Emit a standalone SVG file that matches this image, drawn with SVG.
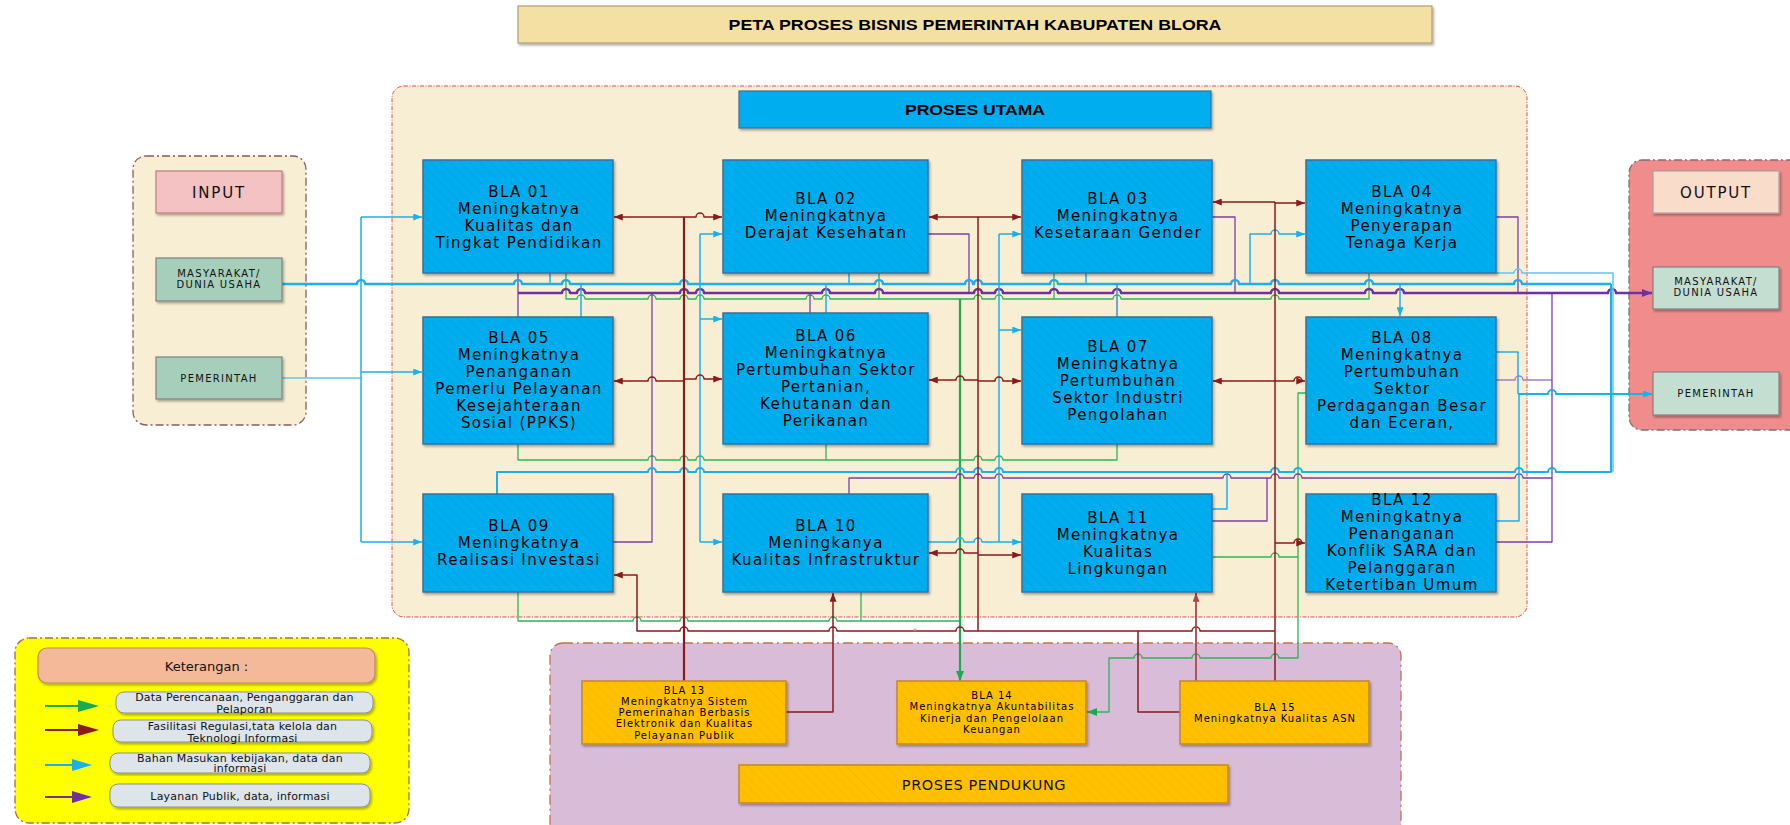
<svg xmlns="http://www.w3.org/2000/svg" width="1790" height="825" viewBox="0 0 1790 825">
<defs>
<pattern id="hb" width="7" height="7" patternUnits="userSpaceOnUse" patternTransform="rotate(-45)"><rect width="7" height="7" fill="#00aeef"/><line x1="0" y1="0" x2="0" y2="7" stroke="#0a9bd8" stroke-width="1"/></pattern>
<pattern id="hy" width="7" height="7" patternUnits="userSpaceOnUse" patternTransform="rotate(-45)"><rect width="7" height="7" fill="#ffc000"/><line x1="0" y1="0" x2="0" y2="7" stroke="#f2b200" stroke-width="1"/></pattern>
<filter id="sh" x="-5%" y="-5%" width="115%" height="120%"><feDropShadow dx="1.5" dy="2" stdDeviation="1.2" flood-color="#000" flood-opacity="0.3"/></filter>
<marker id="aR" viewBox="0 0 10 8" refX="10" refY="4" markerWidth="9" markerHeight="7" orient="auto" markerUnits="userSpaceOnUse"><path d="M0,0 L10,4 L0,8 z" fill="#8b1a1a"/></marker>
<marker id="aR2" viewBox="0 0 10 8" refX="10" refY="4" markerWidth="9" markerHeight="7" orient="auto" markerUnits="userSpaceOnUse"><path d="M0,0 L10,4 L0,8 z" fill="#a84848"/></marker>
<marker id="aC" viewBox="0 0 10 8" refX="10" refY="4" markerWidth="9" markerHeight="7" orient="auto" markerUnits="userSpaceOnUse"><path d="M0,0 L10,4 L0,8 z" fill="#1ab0ee"/></marker>
<marker id="aP" viewBox="0 0 10 8" refX="10" refY="4" markerWidth="10" markerHeight="8" orient="auto" markerUnits="userSpaceOnUse"><path d="M0,0 L10,4 L0,8 z" fill="#7030a0"/></marker>
<marker id="aG" viewBox="0 0 10 8" refX="10" refY="4" markerWidth="10" markerHeight="8" orient="auto" markerUnits="userSpaceOnUse"><path d="M0,0 L10,4 L0,8 z" fill="#1aab4f"/></marker>
<style>
.bla{fill:url(#hb);stroke:#3f6f98;stroke-width:1.5;filter:url(#sh)}
.sup{fill:url(#hy);stroke:#c8862a;stroke-width:1.5;filter:url(#sh)}
.bt{font-family:"DejaVu Sans",sans-serif;font-size:15px;letter-spacing:1.4px;fill:#000;text-anchor:middle}
.st{font-family:"DejaVu Sans",sans-serif;font-size:10px;letter-spacing:1px;fill:#000;text-anchor:middle}
.lt{font-family:"DejaVu Sans",sans-serif;font-size:11px;letter-spacing:0.2px;fill:#111;text-anchor:middle}
.io{font-family:"DejaVu Sans",sans-serif;font-size:10px;letter-spacing:1.3px;fill:#111;text-anchor:middle}
.hd{font-family:"DejaVu Sans",sans-serif;font-size:15px;letter-spacing:1.8px;fill:#111;text-anchor:middle}
#connectors path{stroke-linejoin:round}
.c{fill:none;stroke:#1ab0ee;stroke-width:1.5}
.ct{fill:none;stroke:#1ab0ee;stroke-width:2.5}
.cl{fill:none;stroke:#5ec6ee;stroke-width:1.5}
.cb{fill:none;stroke:#3b8fd0;stroke-width:1.5}
.p{fill:none;stroke:#7a3fae;stroke-width:1.3}
.pt{fill:none;stroke:#7030a0;stroke-width:2.5}
.pl{fill:none;stroke:#a67cc6;stroke-width:1.5}
.g{fill:none;stroke:#2bb55a;stroke-width:1.3}
.gt{fill:none;stroke:#1aab4f;stroke-width:2.2}
.r{fill:none;stroke:#8b1a1a;stroke-width:1.5}
.rt{fill:none;stroke:#8b1a1a;stroke-width:2.2}
.rl{fill:none;stroke:#a84848;stroke-width:1.8}
</style>
</defs>
<rect width="1790" height="825" fill="#ffffff"/>

<g id="title">
<rect x="518" y="6" width="914" height="37" fill="#f5e0a4" stroke="#b59c73" stroke-width="1.2" filter="url(#sh)"/>
<text x="975" y="29.5" font-family="Liberation Sans, Arial, sans-serif" font-size="14.5" font-weight="bold" text-anchor="middle" textLength="493" lengthAdjust="spacingAndGlyphs">PETA PROSES BISNIS PEMERINTAH KABUPATEN BLORA</text>
</g>
<g id="main-container">
<rect x="392" y="86" width="1135" height="531" rx="12" fill="#f8eed3" stroke="#e5484d" stroke-width="1" stroke-dasharray="4,1.5,1,1.5"/>
</g>
<g id="input-container">
<rect x="133" y="156" width="173" height="269" rx="13" fill="#f8eed3" stroke="#8c5c5c" stroke-width="1.3" stroke-dasharray="8,3,2,3"/>
</g>
<g id="output-container">
<rect x="1629" y="160" width="175" height="270" rx="13" fill="#f18c8c" stroke="#7f6f6f" stroke-width="1.3" stroke-dasharray="8,3,2,3"/>
</g>
<g id="support-container">
<rect x="550" y="643" width="851" height="195" rx="13" fill="#d8bcd8" stroke="#c8704a" stroke-width="1.3" stroke-dasharray="10,4,2,4"/>
</g>
<g id="legend">
<rect x="15" y="638" width="394" height="185" rx="14" fill="#ffff00" stroke="#a07050" stroke-width="1.3" stroke-dasharray="8,3,2,3"/>
<rect x="38" y="648" width="337" height="35" rx="9" fill="#f4b999" stroke="#c0876a" stroke-width="1.2" filter="url(#sh)"/>
<text x="206.5" y="670.5" font-family="DejaVu Sans, sans-serif" font-size="13" fill="#111" text-anchor="middle">Keterangan :</text>
<rect x="116" y="692" width="257" height="21" rx="8" fill="#dde4ea" stroke="#8a9096" stroke-width="1" filter="url(#sh)"/>
<text class="lt" x="244.5" y="701">Data Perencanaan, Penganggaran dan</text>
<text class="lt" x="244.5" y="713">Pelaporan</text>
<rect x="113" y="720" width="259" height="22" rx="8" fill="#dde4ea" stroke="#8a9096" stroke-width="1" filter="url(#sh)"/>
<text class="lt" x="242.5" y="729.5">Fasilitasi Regulasi,tata kelola dan</text>
<text class="lt" x="242.5" y="741.5">Teknologi Informasi</text>
<rect x="110" y="753" width="260" height="20" rx="8" fill="#dde4ea" stroke="#8a9096" stroke-width="1" filter="url(#sh)"/>
<text class="lt" x="240" y="761.5">Bahan Masukan kebijakan, data dan</text>
<text class="lt" x="240" y="772">informasi</text>
<rect x="110" y="784" width="260" height="23" rx="8" fill="#dde4ea" stroke="#8a9096" stroke-width="1" filter="url(#sh)"/>
<text class="lt" x="240" y="799.5">Layanan Publik, data, informasi</text>
<line x1="45" y1="706" x2="80" y2="706" stroke="#1aab4f" stroke-width="2"/><path d="M78,700 L99,706 L78,712 z" fill="#1aab4f"/>
<line x1="45" y1="730" x2="80" y2="730" stroke="#8b1a1a" stroke-width="2"/><path d="M78,724 L99,730 L78,736 z" fill="#8b1a1a"/>
<line x1="45" y1="765" x2="74" y2="765" stroke="#1ab0ee" stroke-width="2"/><path d="M72,759 L92,765 L72,771 z" fill="#1ab0ee"/>
<line x1="45" y1="797" x2="74" y2="797" stroke="#7030a0" stroke-width="2"/><path d="M72,791 L92,797 L72,803 z" fill="#7030a0"/>
</g>

<g id="connectors">
<!-- green -->
<path class="g" d="M566,273 V299 H577 a4,4 0 0 1 8,0 H648 a4,4 0 0 1 8,0 H680 a4,4 0 0 1 8,0 H696 a4,4 0 0 1 8,0 H806 a4,4 0 0 1 8,0 H822 a4,4 0 0 1 8,0 H974 a4,4 0 0 1 8,0 H995 a4,4 0 0 1 8,0 H1113 a4,4 0 0 1 8,0 H1271 a4,4 0 0 1 8,0 H1369 V273"/>
<path class="g" d="M879,273 V299"/>
<path class="g" d="M1054,273 V299"/>
<path class="g" d="M518,444 V460 H648 a4,4 0 0 1 8,0 H680 a4,4 0 0 1 8,0 H696 a4,4 0 0 1 8,0 H974 a4,4 0 0 1 8,0 H995 a4,4 0 0 1 8,0 H1117 V444"/>
<path class="g" d="M826,444 V460"/>
<path class="g" d="M518,592 V621 H633 a4,4 0 0 1 8,0 H680 a4,4 0 0 1 8,0 H829 a4,4 0 0 1 8,0 H960"/>
<path class="g" d="M861,592 V621"/>
<path class="g" d="M1212,557 H1271 a4,4 0 0 1 8,0 H1298"/>
<path class="g" d="M1306,393 H1298 V658 H1279 a4,4 0 0 0 -8,0 H1200 a4,4 0 0 0 -8,0 H1142 a4,4 0 0 0 -8,0 H1109 V712 H1087" marker-end="url(#aG)"/>
<path class="gt" d="M960,299 V681" marker-end="url(#aG)"/>
<!-- purple -->
<path class="p" d="M518,273 V317"/>
<path class="p" d="M613,542 H652 V293"/>
<path class="p" d="M928,234 H969 V293"/>
<path class="p" d="M810,313 V293"/>
<path class="p" d="M1212,217 H1235 V293"/>
<path class="p" d="M1496,217 H1518 V293"/>
<path class="pl" d="M1496,380 H1515 a4,4 0 0 1 8,0 H1552"/>
<path class="p" d="M1496,542 H1552 V293"/>
<path class="p" d="M849,494 V478 H956 a4,4 0 0 1 8,0 H974 a4,4 0 0 1 8,0 H995 a4,4 0 0 1 8,0 H1223 a4,4 0 0 1 8,0 H1271 a4,4 0 0 1 8,0 H1294 a4,4 0 0 1 8,0 H1515 a4,4 0 0 1 8,0 H1552"/>
<path class="p" d="M1212,521 H1267 V478"/>
<path class="pt" d="M518,293 H562 a4,4 0 0 1 8,0 H577 a4,4 0 0 1 8,0 H680 a4,4 0 0 1 8,0 H696 a4,4 0 0 1 8,0 H822 a4,4 0 0 1 8,0 H875 a4,4 0 0 1 8,0 H974 a4,4 0 0 1 8,0 H995 a4,4 0 0 1 8,0 H1050 a4,4 0 0 1 8,0 H1113 a4,4 0 0 1 8,0 H1271 a4,4 0 0 1 8,0 H1365 a4,4 0 0 1 8,0 H1396 a4,4 0 0 1 8,0 H1608 a4,4 0 0 1 8,0 H1652" marker-end="url(#aP)"/>
<!-- cyan -->
<path class="ct" d="M282,284 H357 a4,4 0 0 1 8,0 H514 a4,4 0 0 1 8,0 H562 a4,4 0 0 1 8,0 H680 a4,4 0 0 1 8,0 H875 a4,4 0 0 1 8,0 H965 a4,4 0 0 1 8,0 H974 a4,4 0 0 1 8,0 H1050 a4,4 0 0 1 8,0 H1231 a4,4 0 0 1 8,0 H1271 a4,4 0 0 1 8,0 H1365 a4,4 0 0 1 8,0 H1514 a4,4 0 0 1 8,0 H1611"/>
<path class="cl" d="M282,378 H361"/>
<path class="c" d="M361,217 V542"/>
<path class="c" d="M361,217 H422" marker-end="url(#aC)"/>
<path class="c" d="M361,372 H422" marker-end="url(#aC)"/>
<path class="c" d="M361,542 H422" marker-end="url(#aC)"/>
<path class="c" d="M700,234 V542"/>
<path class="c" d="M700,234 H722" marker-end="url(#aC)"/>
<path class="c" d="M700,319 H722" marker-end="url(#aC)"/>
<path class="c" d="M700,542 H722" marker-end="url(#aC)"/>
<path class="c" d="M550,273 V284"/>
<path class="c" d="M581,284 V317"/>
<path class="c" d="M849,273 V284"/>
<path class="c" d="M826,284 V313"/>
<path class="c" d="M999,234 V542"/>
<path class="c" d="M999,234 H1021" marker-end="url(#aC)"/>
<path class="c" d="M999,330 H1021" marker-end="url(#aC)"/>
<path class="c" d="M928,542 H956 a4,4 0 0 1 8,0 H974 a4,4 0 0 1 8,0 H1021" marker-end="url(#aC)"/>
<path class="c" d="M1086,273 V284"/>
<path class="cb" d="M1117,284 V317"/>
<path class="c" d="M1250,284 V234 H1271 a4,4 0 0 1 8,0 H1305" marker-end="url(#aC)"/>
<path class="c" d="M1400,284 V316" marker-end="url(#aC)"/>
<path class="cl" d="M1496,273 H1514 a4,4 0 0 1 8,0 H1613 V472"/>
<path class="c" style="stroke-width:2" d="M1611,284 V472 H1556 a4,4 0 0 0 -8,0 H1523 a4,4 0 0 0 -8,0 H1302 a4,4 0 0 0 -8,0 H1279 a4,4 0 0 0 -8,0 H1003 a4,4 0 0 0 -8,0 H982 a4,4 0 0 0 -8,0 H964 a4,4 0 0 0 -8,0 H704 a4,4 0 0 0 -8,0 H688 a4,4 0 0 0 -8,0 H656 a4,4 0 0 0 -8,0 H497 V494"/>
<path class="c" d="M1496,352 H1518 V394"/>
<path class="c" d="M1496,521 H1519 V394"/>
<path class="c" style="stroke-width:2" d="M1518,394 H1548 a4,4 0 0 1 8,0 H1652" marker-end="url(#aC)"/>
<path class="c" d="M1212,509 H1227 V472"/>
<!-- red -->
<path class="rt" d="M684,681 V217"/>
<path class="r" d="M684,217 H614" marker-end="url(#aR)"/>
<path class="r" d="M684,217 H696 a4,4 0 0 1 8,0 H722" marker-end="url(#aR)"/>
<path class="r" d="M684,381 H656 a4,4 0 0 0 -8,0 H614" marker-end="url(#aR)"/>
<path class="r" d="M684,379 H696 a4,4 0 0 1 8,0 H722" marker-end="url(#aR)"/>
<path class="r" d="M978,217 V631"/>
<path class="r" d="M978,217 H929" marker-end="url(#aR)"/>
<path class="r" d="M978,217 H1021" marker-end="url(#aR)"/>
<path class="r" d="M978,380 H964 a4,4 0 0 0 -8,0 H929" marker-end="url(#aR)"/>
<path class="r" d="M978,381 H995 a4,4 0 0 1 8,0 H1021" marker-end="url(#aR)"/>
<path class="r" d="M978,553 H964 a4,4 0 0 0 -8,0 H929" marker-end="url(#aR)"/>
<path class="r" d="M978,555 H1021" marker-end="url(#aR)"/>
<path class="r" d="M1275,681 V202"/>
<path class="r" d="M1275,202 H1213" marker-end="url(#aR)"/>
<path class="r" d="M1275,203 H1305" marker-end="url(#aR)"/>
<path class="r" d="M1275,381 H1213" marker-end="url(#aR)"/>
<path class="r" d="M1275,381 H1294 a4,4 0 0 1 8,0 H1305" marker-end="url(#aR)"/>
<path class="r" d="M1275,543 H1294 a4,4 0 0 1 8,0 H1305" marker-end="url(#aR)"/>
<path class="r" d="M1275,631 H1200 a4,4 0 0 0 -8,0 H964 a4,4 0 0 0 -8,0 H837 a4,4 0 0 0 -8,0 H688 a4,4 0 0 0 -8,0 H637 V575 H614" marker-end="url(#aR)"/>
<path class="r" d="M786,712 H833 V593" marker-end="url(#aR)"/>
<path class="r" d="M1180,712 H1138 V631"/>
<path class="rl" d="M1196,681 V593" marker-end="url(#aR2)"/>
<text x="915" y="635" font-family="DejaVu Sans, sans-serif" font-size="8" fill="#d08080" text-anchor="middle">*</text>
</g>

<g id="input"><rect x="156" y="171" width="126" height="42" fill="#f4c2c2" stroke="#c07a7a" stroke-width="1.2" filter="url(#sh)"/><text class="hd" x="219" y="197.5">INPUT</text></g>
<g id="in-masyarakat"><rect x="156" y="258" width="126" height="43" fill="#a6cfbb" stroke="#808080" stroke-width="1.2" filter="url(#sh)"/><text class="io" x="219" y="277">MASYARAKAT/</text><text class="io" x="219" y="288">DUNIA USAHA</text></g>
<g id="in-pemerintah"><rect x="156" y="357" width="126" height="42" fill="#a6cfbb" stroke="#808080" stroke-width="1.2" filter="url(#sh)"/><text class="io" x="219" y="381.5">PEMERINTAH</text></g>
<g id="output"><rect x="1653" y="171" width="126" height="42" fill="#fadccb" stroke="#b0a0a0" stroke-width="1.2" filter="url(#sh)"/><text class="hd" x="1716" y="197.5">OUTPUT</text></g>
<g id="out-masyarakat"><rect x="1653" y="267" width="126" height="42" fill="#c5ded2" stroke="#808080" stroke-width="1.2" filter="url(#sh)"/><text class="io" x="1716" y="285">MASYARAKAT/</text><text class="io" x="1716" y="296">DUNIA USAHA</text></g>
<g id="out-pemerintah"><rect x="1653" y="372" width="126" height="43" fill="#c5ded2" stroke="#808080" stroke-width="1.2" filter="url(#sh)"/><text class="io" x="1716" y="397">PEMERINTAH</text></g>
<g id="proses-utama"><rect x="739" y="91" width="472" height="37" fill="#00aeef" stroke="#3f6f98" stroke-width="1.2" filter="url(#sh)"/><text x="975" y="114.5" font-family="Liberation Sans, Arial, sans-serif" font-size="14" font-weight="bold" text-anchor="middle" textLength="140" lengthAdjust="spacingAndGlyphs">PROSES UTAMA</text></g>

<g id="bla01"><rect class="bla" x="423" y="160" width="190" height="113"/><text class="bt"><tspan x="519" y="197">BLA 01</tspan><tspan x="519" y="214">Meningkatnya</tspan><tspan x="519" y="231">Kualitas dan</tspan><tspan x="519" y="248">Tingkat Pendidikan</tspan></text></g>
<g id="bla02"><rect class="bla" x="723" y="160" width="205" height="113"/><text class="bt"><tspan x="826" y="204">BLA 02</tspan><tspan x="826" y="221">Meningkatnya</tspan><tspan x="826" y="238">Derajat Kesehatan</tspan></text></g>
<g id="bla03"><rect class="bla" x="1022" y="160" width="190" height="113"/><text class="bt"><tspan x="1118" y="204">BLA 03</tspan><tspan x="1118" y="221">Meningkatnya</tspan><tspan x="1118" y="238">Kesetaraan Gender</tspan></text></g>
<g id="bla04"><rect class="bla" x="1306" y="160" width="190" height="113"/><text class="bt"><tspan x="1402" y="197">BLA 04</tspan><tspan x="1402" y="214">Meningkatnya</tspan><tspan x="1402" y="231">Penyerapan</tspan><tspan x="1402" y="248">Tenaga Kerja</tspan></text></g>
<g id="bla05"><rect class="bla" x="423" y="317" width="190" height="127"/><text class="bt"><tspan x="519" y="343">BLA 05</tspan><tspan x="519" y="360">Meningkatnya</tspan><tspan x="519" y="377">Penanganan</tspan><tspan x="519" y="394">Pemerlu Pelayanan</tspan><tspan x="519" y="411">Kesejahteraan</tspan><tspan x="519" y="428">Sosial (PPKS)</tspan></text></g>
<g id="bla06"><rect class="bla" x="723" y="313" width="205" height="131"/><text class="bt"><tspan x="826" y="341">BLA 06</tspan><tspan x="826" y="358">Meningkatnya</tspan><tspan x="826" y="375">Pertumbuhan Sektor</tspan><tspan x="826" y="392">Pertanian,</tspan><tspan x="826" y="409">Kehutanan dan</tspan><tspan x="826" y="426">Perikanan</tspan></text></g>
<g id="bla07"><rect class="bla" x="1022" y="317" width="190" height="127"/><text class="bt"><tspan x="1118" y="352">BLA 07</tspan><tspan x="1118" y="369">Meningkatnya</tspan><tspan x="1118" y="386">Pertumbuhan</tspan><tspan x="1118" y="403">Sektor Industri</tspan><tspan x="1118" y="420">Pengolahan</tspan></text></g>
<g id="bla08"><rect class="bla" x="1306" y="317" width="190" height="127"/><text class="bt"><tspan x="1402" y="343">BLA 08</tspan><tspan x="1402" y="360">Meningkatnya</tspan><tspan x="1402" y="377">Pertumbuhan</tspan><tspan x="1402" y="394">Sektor</tspan><tspan x="1402" y="411">Perdagangan Besar</tspan><tspan x="1402" y="428">dan Eceran,</tspan></text></g>
<g id="bla09"><rect class="bla" x="423" y="494" width="190" height="98"/><text class="bt"><tspan x="519" y="531">BLA 09</tspan><tspan x="519" y="548">Meningkatnya</tspan><tspan x="519" y="565">Realisasi Investasi</tspan></text></g>
<g id="bla10"><rect class="bla" x="723" y="494" width="205" height="98"/><text class="bt"><tspan x="826" y="531">BLA 10</tspan><tspan x="826" y="548">Meningkanya</tspan><tspan x="826" y="565">Kualitas Infrastruktur</tspan></text></g>
<g id="bla11"><rect class="bla" x="1022" y="494" width="190" height="98"/><text class="bt"><tspan x="1118" y="522.5">BLA 11</tspan><tspan x="1118" y="539.5">Meningkatnya</tspan><tspan x="1118" y="556.5">Kualitas</tspan><tspan x="1118" y="573.5">Lingkungan</tspan></text></g>
<g id="bla12"><rect class="bla" x="1306" y="494" width="190" height="98"/><text class="bt"><tspan x="1402" y="505">BLA 12</tspan><tspan x="1402" y="522">Meningkatnya</tspan><tspan x="1402" y="539">Penanganan</tspan><tspan x="1402" y="556">Konflik SARA dan</tspan><tspan x="1402" y="573">Pelanggaran</tspan><tspan x="1402" y="590">Ketertiban Umum</tspan></text></g>

<g id="bla13"><rect class="sup" x="582" y="681" width="204" height="63"/><text class="st"><tspan x="684.5" y="693.5">BLA 13</tspan><tspan x="684.5" y="704.8">Meningkatnya Sistem</tspan><tspan x="684.5" y="716.1">Pemerinahan Berbasis</tspan><tspan x="684.5" y="727.4">Elektronik dan  Kualitas</tspan><tspan x="684.5" y="738.7">Pelayanan Publik</tspan></text></g>
<g id="bla14"><rect class="sup" x="897" y="681" width="189" height="63"/><text class="st"><tspan x="992" y="699">BLA 14</tspan><tspan x="992" y="710.3">Meningkatnya Akuntabilitas</tspan><tspan x="992" y="721.6">Kinerja dan Pengelolaan</tspan><tspan x="992" y="732.9">Keuangan</tspan></text></g>
<g id="bla15"><rect class="sup" x="1180" y="681" width="189" height="63"/><text class="st"><tspan x="1275" y="711">BLA 15</tspan><tspan x="1275" y="722.3">Meningkatnya Kualitas ASN</tspan></text></g>
<g id="proses-pendukung"><rect class="sup" x="739" y="765" width="489" height="38"/><text x="984" y="790" font-family="DejaVu Sans, sans-serif" font-size="14.5" letter-spacing="0.6" fill="#111" text-anchor="middle">PROSES PENDUKUNG</text></g>
</svg>
